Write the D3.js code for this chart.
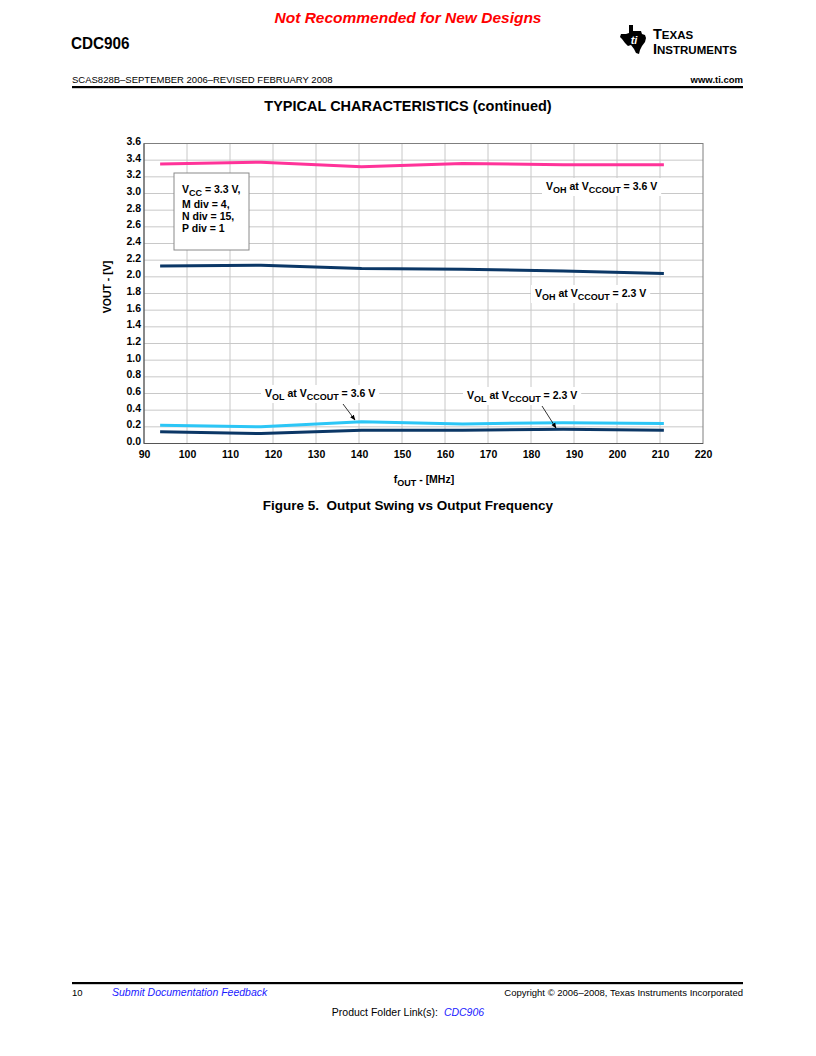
<!DOCTYPE html>
<html><head><meta charset="utf-8">
<script src="https://cdn.jsdelivr.net/npm/d3@7"></script>
<style>
body{margin:0;background:#fff;}
svg{display:block;font-family:"Liberation Sans",Arial,Helvetica,sans-serif;}
</style></head>
<body>
<svg id="page" width="816" height="1056"></svg>
<script>
const freqs = [93.75, 117.2, 140.6, 164.1, 187.5, 210.9];
const vohHigh = [3.355, 3.375, 3.32, 3.36, 3.345, 3.345];   // VOH at VCCOUT = 3.6 V
const vohLow  = [2.13, 2.14, 2.10, 2.09, 2.07, 2.04];       // VOH at VCCOUT = 2.3 V
const volHigh = [0.22, 0.20, 0.26, 0.235, 0.25, 0.24];      // VOL at VCCOUT = 3.6 V
const volLow  = [0.14, 0.12, 0.16, 0.16, 0.17, 0.16];       // VOL at VCCOUT = 2.3 V
const xTicks = [90,100,110,120,130,140,150,160,170,180,190,200,210,220];
const yTicks = [0,0.2,0.4,0.6,0.8,1.0,1.2,1.4,1.6,1.8,2.0,2.2,2.4,2.6,2.8,3.0,3.2,3.4,3.6];

const svg = d3.select("#page");

// ---------- page header ----------
svg.append("text").attr("x",408).attr("y",23).attr("text-anchor","middle")
  .attr("fill","#ff0000").attr("font-weight","bold").attr("font-style","italic")
  .attr("font-size",15.5).text("Not Recommended for New Designs");
svg.append("text").attr("x",71).attr("y",49).attr("font-weight","bold")
  .attr("font-size",17).attr("transform","translate(71,0) scale(0.9,1) translate(-71,0)").text("CDC906");
svg.append("text").attr("x",72).attr("y",83).attr("font-size",9.5).text("SCAS828B\u2013SEPTEMBER 2006\u2013REVISED FEBRUARY 2008");
svg.append("text").attr("x",743).attr("y",83).attr("text-anchor","end").attr("font-size",9.5)
  .attr("font-weight","bold").text("www.ti.com");
svg.append("rect").attr("x",72).attr("y",86).attr("width",671).attr("height",2.2).attr("fill","#000");

// TI logo (approximate)
const logo = svg.append("g").attr("transform","translate(620,25)");
logo.append("path").attr("fill","#000")
  .attr("d","M9,0 L13,0 L13,6 L21,6 L22,9 L25,10 L26,13 L25,17 L22,21 L20,25 L19,29 L16,28 L14,24 L11,20 L8,21 L5,18 L2,14 L0,12 L1,9 L6,9 L9,8 Z");
logo.append("text").attr("x",14).attr("y",19).attr("fill","#fff").attr("font-size",11)
  .attr("font-style","italic").attr("font-weight","bold").attr("text-anchor","middle").text("ti");
logo.append("text").attr("x",33).attr("y",14).attr("font-weight","bold")
  .attr("font-size",14.5).html('T<tspan font-size="11.5">EXAS</tspan>');
logo.append("text").attr("x",33).attr("y",28.5).attr("font-weight","bold")
  .attr("font-size",14.5).html('I<tspan font-size="11.5">NSTRUMENTS</tspan>');

// ---------- section title ----------
svg.append("text").attr("x",408).attr("y",111).attr("text-anchor","middle").attr("font-weight","bold")
  .attr("font-size",14.5).text("TYPICAL CHARACTERISTICS (continued)");

// ---------- chart ----------
const L=144, R=703, T=143.5, B=443.5;
const x = d3.scaleLinear().domain([90,220]).range([L,R]);
const y = d3.scaleLinear().domain([0,3.6]).range([B,T]);

const g = svg.append("g");
g.append("g").selectAll("line").data(xTicks.slice(1,-1)).join("line")
  .attr("x1",d=>x(d)).attr("x2",d=>x(d)).attr("y1",T).attr("y2",B)
  .attr("stroke","#c8c8c8").attr("stroke-width",1);
g.append("g").selectAll("line").data(yTicks.slice(1,-1)).join("line")
  .attr("x1",L).attr("x2",R).attr("y1",d=>y(d)).attr("y2",d=>y(d))
  .attr("stroke","#c8c8c8").attr("stroke-width",1);
g.append("rect").attr("x",L).attr("y",T).attr("width",R-L).attr("height",B-T)
  .attr("fill","none").attr("stroke","#7f7f7f").attr("stroke-width",1);

const xAxis = d3.axisBottom(x).tickValues(xTicks).tickSize(0).tickPadding(7).tickFormat(d3.format("d"));
const xa = g.append("g").attr("transform",`translate(0,${B})`).call(xAxis);
xa.select(".domain").remove();
xa.selectAll("text").attr("font-size",10.5).attr("font-weight","bold").attr("fill","#000")
  .attr("font-family","Liberation Sans, Arial, sans-serif");
const yAxis = d3.axisLeft(y).tickValues(yTicks).tickSize(0).tickPadding(3).tickFormat(d3.format(".1f"));
const ya = g.append("g").attr("transform",`translate(${L},0)`).call(yAxis);
ya.select(".domain").remove();
ya.selectAll("text").attr("font-size",10.5).attr("font-weight","bold").attr("fill","#000")
  .attr("font-family","Liberation Sans, Arial, sans-serif").attr("dy","0.1em");
g.append("line").attr("x1",L).attr("x2",L).attr("y1",T).attr("y2",B).attr("stroke","#555");
g.append("line").attr("x1",L).attr("x2",R).attr("y1",B).attr("y2",B).attr("stroke","#555");

svg.append("text").attr("transform",`translate(111,287) rotate(-90)`).attr("text-anchor","middle")
  .attr("font-weight","bold").attr("font-size",10.5).text("VOUT - [V]");
svg.append("text").attr("x",424).attr("y",483).attr("text-anchor","middle").attr("font-weight","bold")
  .attr("font-size",10.5).html('f<tspan font-size="9" dy="3">OUT</tspan><tspan dy="-3"> - [MHz]</tspan>');

const line = d3.line().x((d,i)=>x(freqs[i])).y(d=>y(d));
const series = [
  {v:vohHigh,c:"#ff3399"},
  {v:vohLow,c:"#0b3766"},
  {v:volHigh,c:"#2cc6f6"},
  {v:volLow,c:"#0b3766"}
];
g.append("g").selectAll("path").data(series).join("path")
  .attr("d",d=>line(d.v)).attr("fill","none").attr("stroke",d=>d.c)
  .attr("stroke-width",3).attr("stroke-linejoin","round");

svg.append("rect").attr("x",174).attr("y",173).attr("width",75).attr("height",77)
  .attr("fill","#fff").attr("stroke","#8a8a8a").attr("stroke-width",1);
const cond = svg.append("g").attr("font-weight","bold").attr("font-size",10.5);
cond.append("text").attr("x",182).attr("y",193).html('V<tspan font-size="9" dy="3">CC</tspan><tspan dy="-3"> = 3.3 V,</tspan>');
cond.append("text").attr("x",182).attr("y",208).text("M div = 4,");
cond.append("text").attr("x",182).attr("y",220).text("N div = 15,");
cond.append("text").attr("x",182).attr("y",232).text("P div = 1");

function seriesLabel(xp, yp, sub1, val){
  const t = svg.append("text").attr("x",xp).attr("y",yp).attr("font-weight","bold").attr("font-size",10.5)
    .html(`V<tspan font-size="9" dy="3">${sub1}</tspan><tspan dy="-3"> at V</tspan><tspan font-size="9" dy="3">CCOUT</tspan><tspan dy="-3"> = ${val}</tspan>`);
  const bb = t.node().getBBox();
  svg.insert("rect", () => t.node()).attr("x",bb.x-4).attr("y",bb.y-2).attr("width",bb.width+8).attr("height",bb.height+3).attr("fill","#fff");
}
seriesLabel(546,190,"OH","3.6 V");
seriesLabel(535,297,"OH","2.3 V");
seriesLabel(265,397,"OL","3.6 V");
seriesLabel(467,399,"OL","2.3 V");

const defs = svg.append("defs");
defs.append("marker").attr("id","ah").attr("viewBox","0 0 10 10").attr("refX",9).attr("refY",5)
  .attr("markerWidth",7).attr("markerHeight",7).attr("orient","auto")
  .append("path").attr("d","M0,1 L10,5 L0,9 Z").attr("fill","#000");
svg.append("line").attr("x1",343).attr("y1",404).attr("x2",355).attr("y2",420)
  .attr("stroke","#000").attr("stroke-width",0.8).attr("marker-end","url(#ah)");
svg.append("line").attr("x1",542).attr("y1",406).attr("x2",556).attr("y2",428)
  .attr("stroke","#000").attr("stroke-width",0.8).attr("marker-end","url(#ah)");

svg.append("text").attr("x",408).attr("y",510).attr("text-anchor","middle").attr("font-weight","bold")
  .attr("font-size",13.5).attr("xml:space","preserve").text("Figure 5.  Output Swing vs Output Frequency");

// ---------- footer ----------
svg.append("rect").attr("x",72).attr("y",982).attr("width",671).attr("height",2.2).attr("fill","#000");
svg.append("text").attr("x",72).attr("y",996).attr("font-size",9.5).text("10");
svg.append("text").attr("x",112).attr("y",996).attr("font-size",10.5).attr("font-style","italic")
  .attr("fill","#1a1aff").text("Submit Documentation Feedback");
svg.append("text").attr("x",743).attr("y",996).attr("font-size",9.5).attr("text-anchor","end")
  .text("Copyright \u00a9 2006\u20132008, Texas Instruments Incorporated");
svg.append("text").attr("x",408).attr("y",1016).attr("font-size",10.5).attr("text-anchor","middle")
  .attr("xml:space","preserve")
  .html('Product Folder Link(s):  <tspan font-style="italic" fill="#1a1aff">CDC906</tspan>');
</script>
</body></html>
